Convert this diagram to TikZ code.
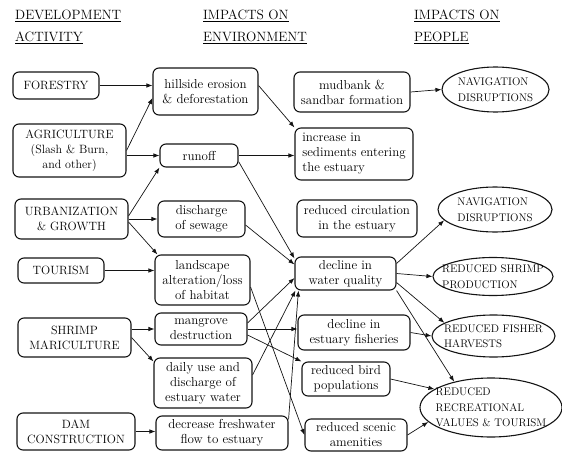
\documentclass[tikz,border=0pt]{standalone}
\usetikzlibrary{arrows.meta,positioning,calc,shapes.geometric}
\definecolor{ink}{RGB}{20,20,20}

\begin{document}
\begin{tikzpicture}[x=1pt, y=-1pt,
    actbox/.style={draw=ink, line width=1.1pt, rounded corners=6pt, align=center, inner sep=2pt, font=\fontsize{12}{15}\selectfont},
    envbox/.style={actbox, font=\fontsize{13}{15}\selectfont},
    peopleell/.style={draw=ink, ellipse, line width=1.1pt, inner sep=0pt},
    peopletxt/.style={align=left, inner sep=0pt, font=\fontsize{11}{15.5}\selectfont},
    header/.style={anchor=north west, align=left, inner sep=0pt, font=\fontsize{13.5}{22}\selectfont},
    link/.style={-{Latex[length=6pt,width=4.5pt]}, draw=ink, line width=0.7pt}]
    \useasboundingbox (0,0) rectangle (562,452);

    % Column headings
    \node[header] (hdact) at (15,10) {\underline{DEVELOPMENT}\\\underline{ACTIVITY}};
    \node[header] (hdenv) at (203,10) {\underline{IMPACTS ON}\\\underline{ENVIRONMENT}};
    \node[header] (hdppl) at (414,10) {\underline{IMPACTS ON}\\\underline{PEOPLE}};

    % Development activities
    \node[actbox, minimum width=86pt, minimum height=27pt] (forestry) at (56,85.5) {FORESTRY};
    \node[actbox, minimum width=113pt, minimum height=53pt] (agri) at (69.5,150.5) {AGRICULTURE\\(Slash \& Burn,\\and other)};
    \node[actbox, minimum width=113pt, minimum height=40pt] (urban) at (71.5,219) {URBANIZATION\\\& GROWTH};
    \node[actbox, minimum width=86pt, minimum height=25pt] (tourism) at (61,270.5) {TOURISM};
    \node[actbox, minimum width=113pt, minimum height=39pt] (shrimp) at (74.5,337.5) {SHRIMP\\MARICULTURE};
    \node[actbox, minimum width=118pt, minimum height=37pt] (dam) at (76,431.5) {DAM\\CONSTRUCTION};

    % First impacts on the environment
    \node[envbox, minimum width=105pt, minimum height=47pt] (hillside) at (205.5,91.5) {hillside erosion\\\& deforestation};
    \node[envbox, minimum width=78pt, minimum height=23pt] (runoff) at (199,155.5) {runoff};
    \node[envbox, minimum width=87pt, minimum height=36pt] (sewage) at (201.5,219) {discharge\\of sewage};
    \node[envbox, minimum width=95pt, minimum height=50pt] (landscape) at (202.5,280) {landscape\\alteration/loss\\of habitat};
    \node[envbox, minimum width=92pt, minimum height=32pt] (mangrove) at (201,329) {mangrove\\destruction};
    \node[envbox, minimum width=98pt, minimum height=50pt] (dailyuse) at (203,383) {daily use and\\discharge of\\estuary water};
    \node[envbox, minimum width=132pt, minimum height=34pt] (freshwater) at (222,433) {decrease freshwater\\flow to estuary};

    % Further impacts on the environment
    \node[envbox, minimum width=116pt, minimum height=40pt] (mudbank) at (352,92) {mudbank \&\\sandbar formation};
    \node[envbox, minimum width=118pt, minimum height=52pt, align=left] (sediments) at (354,154) {increase in\\sediments entering\\the estuary};
    \node[envbox, minimum width=120pt, minimum height=37pt] (circulation) at (357,218.5) {reduced circulation\\in the estuary};
    \node[envbox, minimum width=101pt, minimum height=33pt] (waterq) at (345.5,273.5) {decline in\\water quality};
    \node[envbox, minimum width=112pt, minimum height=35pt] (fisheries) at (354,332.5) {decline in\\estuary fisheries};
    \node[envbox, minimum width=88pt, minimum height=34pt] (birds) at (346,379) {reduced bird\\populations};
    \node[envbox, minimum width=102pt, minimum height=32pt] (scenic) at (356,435) {reduced scenic\\amenities};

    % Impacts on people
    \node[peopleell, minimum width=107pt, minimum height=45pt, label={[peopletxt]center:NAVIGATION\\DISRUPTIONS}] (nav1) at (495.5,89.5) {};
    \node[peopleell, minimum width=114pt, minimum height=45pt, label={[peopletxt]center:NAVIGATION\\DISRUPTIONS}] (nav2) at (495,209.5) {};
    \node[peopleell, minimum width=120pt, minimum height=38pt, label={[peopletxt]center:REDUCED SHRIMP\\PRODUCTION}] (shrimpprod) at (493,276.5) {};
    \node[peopleell, minimum width=123pt, minimum height=42pt, label={[peopletxt]center:REDUCED FISHER\\HARVESTS}] (fisher) at (493.5,336) {};
    \node[peopleell, minimum width=142pt, minimum height=59pt, label={[peopletxt]center:REDUCED\\RECREATIONAL\\VALUES \& TOURISM}] (recreation) at (491,407.5) {};

    % Activities -> first impacts
    \draw[link] (forestry.east) -- (forestry.east -| hillside.west);
    \draw[link] (agri.east) -- ([yshift=-6.5pt]hillside.west);
    \draw[link] (agri.east |- runoff.west) -- (runoff.west);
    \draw[link] ([yshift=3pt]urban.east) -- (runoff.south west);
    \draw[link] (urban.east) -- (sewage.west);
    \draw[link] ([yshift=-3pt]urban.east) -- ([xshift=3pt]landscape.north west);
    \draw[link] (tourism.east) -- (tourism.east -| landscape.west);
    \draw[link] (shrimp.east |- mangrove.west) -- (mangrove.west);
    \draw[link] (shrimp.east) -- ([yshift=-4pt]dailyuse.north west);
    \draw[link] (dam.east) -- (dam.east -| freshwater.west);

    % First impacts -> further impacts
    \draw[link] ([yshift=6pt]hillside.east) -- (sediments.north west);
    \draw[link] (runoff.east) -- (runoff.east -| sediments.west);
    \draw[link] ([yshift=-6pt]runoff.east) -- ([yshift=-2pt]waterq.north west);
    \draw[link] ([yshift=-6pt]sewage.east) -- ([yshift=-8pt]waterq.north west);
    \draw[link] ([yshift=-7pt]landscape.east) -- (scenic.west);
    \draw[link] ([yshift=6pt]mangrove.east) -- ([yshift=-4.5pt]waterq.west);
    \draw[link] (mangrove.east) -- (mangrove.east -| fisheries.west);
    \draw[link] ([yshift=-6pt]mangrove.east) -- (birds.north west);
    \draw[link] ([yshift=8pt]dailyuse.east) -- ([xshift=1pt]waterq.south west);
    \draw[link] ([yshift=-4pt]freshwater.north east) -- ([xshift=4pt]waterq.south west);

    % Environment -> people
    \draw[link] (mudbank.east) -- (nav1.west);
    \draw[link] ([yshift=10pt]waterq.east) -- (nav2.192);
    \draw[link] (waterq.east) -- (shrimpprod.west);
    \draw[link] ([yshift=-9pt]waterq.east) -- (fisher.165);
    \draw[link] (waterq.south east) -- (recreation.145);
    \draw[link] (fisheries.east) -- (fisher.west);
    \draw[link] (birds.east) -- (recreation.162);
    \draw[link] (scenic.east) -- (recreation.193);
\end{tikzpicture}
\end{document}
